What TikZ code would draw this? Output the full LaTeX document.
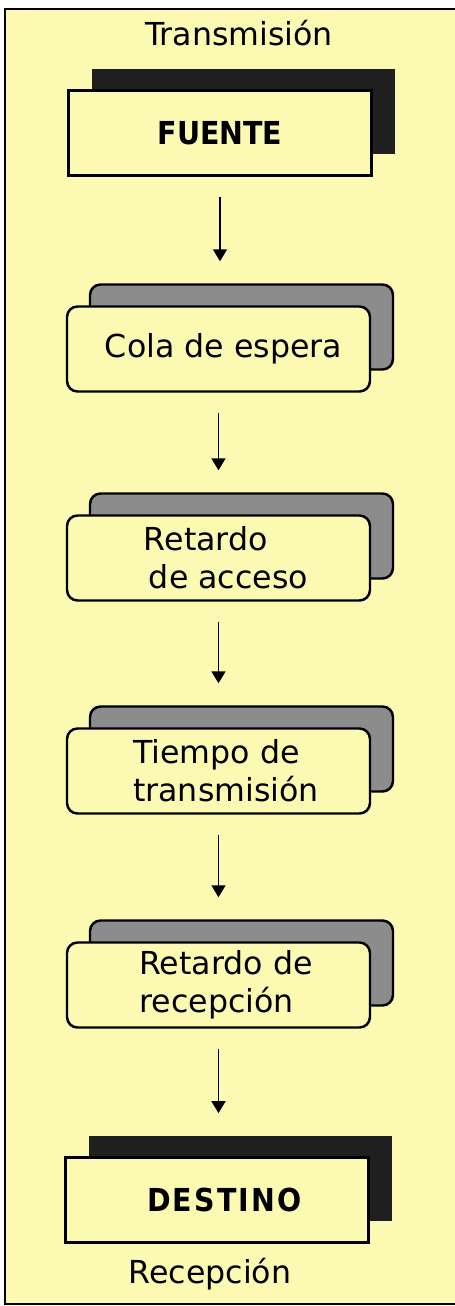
\documentclass[tikz,border=0pt]{standalone}
\usepackage{fontspec}
\setmainfont{DejaVu Sans}
\newfontfamily\endfont{DejaVu Sans Condensed Bold}
\newfontfamily\destfont[LetterSpace=7]{DejaVu Sans Condensed Bold}
\usepackage{tikz}
\usetikzlibrary{arrows.meta}
\definecolor{paperyellow}{RGB}{251,249,178}

\begin{document}
\begin{tikzpicture}[
  every node/.style={font=\fontsize{18}{21.6}\selectfont},
  stepbox/.style={draw, line width=1.4pt, rounded corners=6pt,
                  fill=paperyellow, minimum width=6.06cm, minimum height=1.7cm,
                  align=left, inner sep=0pt},
  stepshade/.style={draw, line width=1.4pt, rounded corners=6pt,
                    fill=black!45, minimum width=6.06cm, minimum height=1.7cm},
  endbox/.style={draw, line width=1.4pt, fill=paperyellow,
                 minimum width=6.06cm, minimum height=1.7cm, inner sep=0pt},
  endshade/.style={fill=black!88, minimum width=6.06cm, minimum height=1.7cm},
  arrow/.style={-{Triangle[length=0.24cm, width=0.28cm]}, line width=1pt,
                shorten <=0.4cm, shorten >=0.44cm},
]
\useasboundingbox (0,0) rectangle (9.1,-26.12);

%% -- Page ----------------------------------------------------------------
\fill[paperyellow] (0.1,-0.18) rectangle (9.1,-26.08);
\draw[line width=1pt] (9.1,-0.18) -- (0.1,-0.18) -- (0.1,-26.08) -- (9.1,-26.08);

%% -- Titles --------------------------------------------------------------
\node[anchor=base] (tx) at (4.78,-0.90) {Transmisión};
\node[anchor=base] (rx) at (4.20,-25.66) {Recepción};

%% -- Shadows -------------------------------------------------------------
\node[endshade]  (fuentesh)  at (4.86,-2.22)  {};
\node[stepshade] (colash)    at (4.83,-6.54)  {};
\node[stepshade] (accesosh)  at (4.83,-10.72) {};
\node[stepshade] (tiemposh)  at (4.83,-14.98) {};
\node[stepshade] (recepsh)   at (4.83,-19.26) {};
\node[endshade]  (destinosh) at (4.80,-23.56) {};

%% -- Boxes ---------------------------------------------------------------
\node[endbox]  (fuente)  at (4.40,-2.66)  {\endfont FUENTE};
\node[stepbox] (cola)    at (4.37,-6.98)  {\hspace*{0.2cm}Cola de espera};
\node[stepbox] (acceso)  at (4.37,-11.16) {\hspace*{0.3cm}Retardo\\\hspace*{0.4cm}de acceso};
\node[stepbox] (tiempo)  at (4.37,-15.42) {\hspace*{0.3cm}Tiempo de\\\hspace*{0.3cm}transmisión};
\node[stepbox] (recep)   at (4.37,-19.70) {\hspace*{0.3cm}Retardo de\\\hspace*{0.3cm}recepción};
\node[endbox]  (destino) at (4.34,-24.00) {\hspace*{0.3cm}\destfont DESTINO};

%% -- Arrows --------------------------------------------------------------
\draw[arrow] (fuente.south) -- (fuente.south |- colash.north);
\draw[arrow] (cola.south)   -- (cola.south |- accesosh.north);
\draw[arrow] (acceso.south) -- (acceso.south |- tiemposh.north);
\draw[arrow] (tiempo.south) -- (tiempo.south |- recepsh.north);
\draw[arrow] (recep.south)  -- (recep.south |- destinosh.north);

\end{tikzpicture}
\end{document}
